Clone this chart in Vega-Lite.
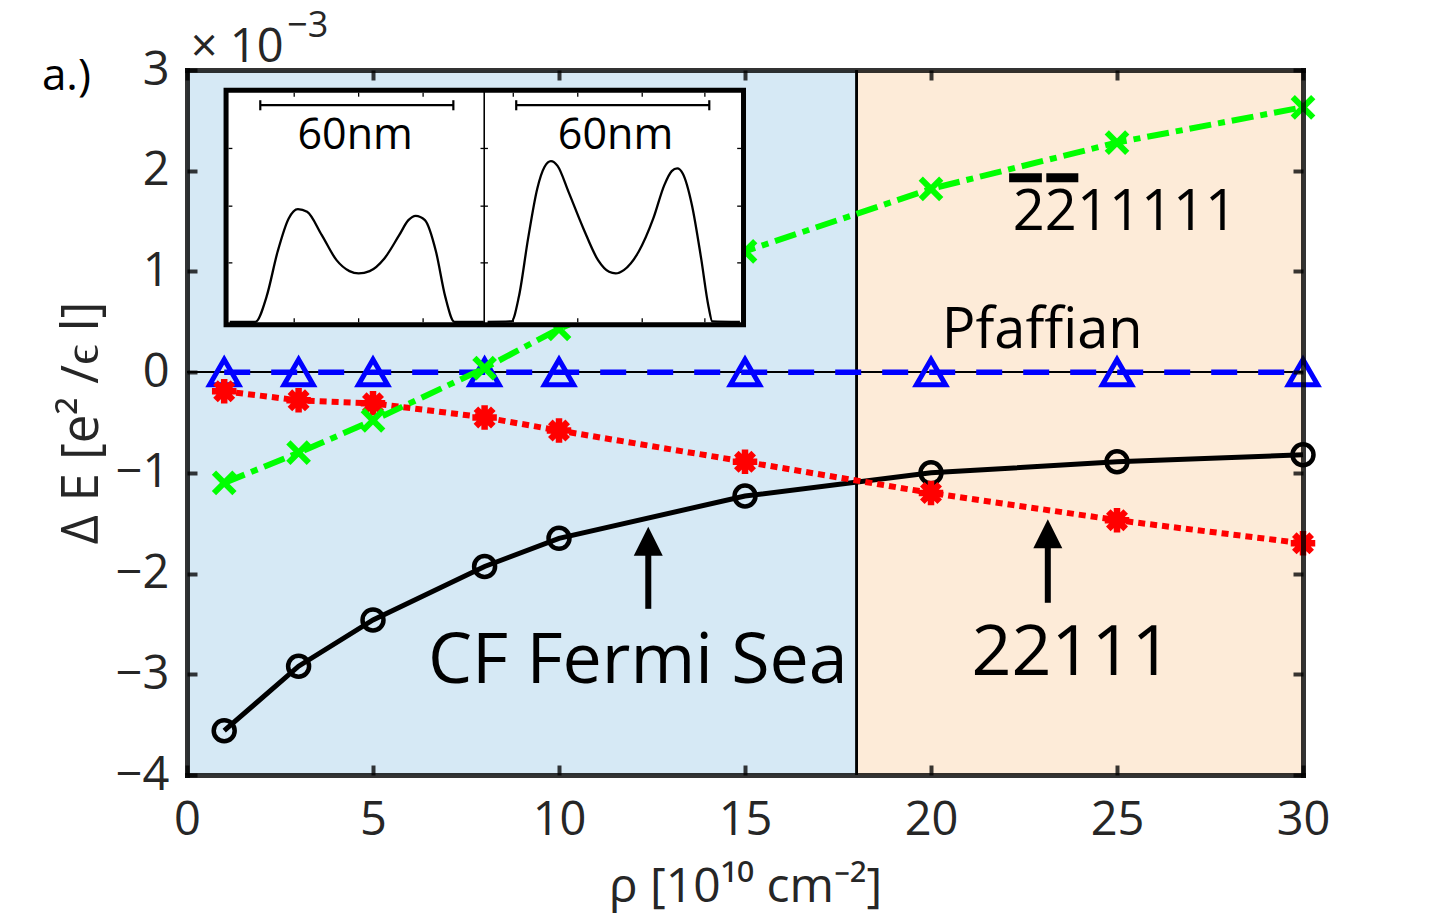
{
  "$schema": "https://vega.github.io/schema/vega-lite/v6.json",
  "width": 1116,
  "height": 705,
  "autosize": {"type": "none"},
  "padding": {"left": 187, "top": 70, "right": 137, "bottom": 144},
  "background": "white",
  "config": {"view": {"stroke": null}, "font": "Open Sans"},
  "datasets": {
    "series": [
      {"rho": 1, "dE": -3.56, "state": "CF Fermi Sea"},
      {"rho": 3, "dE": -2.92, "state": "CF Fermi Sea"},
      {"rho": 5, "dE": -2.46, "state": "CF Fermi Sea"},
      {"rho": 8, "dE": -1.93, "state": "CF Fermi Sea"},
      {"rho": 10, "dE": -1.65, "state": "CF Fermi Sea"},
      {"rho": 15, "dE": -1.23, "state": "CF Fermi Sea"},
      {"rho": 20, "dE": -1.0, "state": "CF Fermi Sea"},
      {"rho": 25, "dE": -0.89, "state": "CF Fermi Sea"},
      {"rho": 30, "dE": -0.82, "state": "CF Fermi Sea"},
      {"rho": 1, "dE": 0, "state": "Pfaffian"},
      {"rho": 3, "dE": 0, "state": "Pfaffian"},
      {"rho": 5, "dE": 0, "state": "Pfaffian"},
      {"rho": 8, "dE": 0, "state": "Pfaffian"},
      {"rho": 10, "dE": 0, "state": "Pfaffian"},
      {"rho": 15, "dE": 0, "state": "Pfaffian"},
      {"rho": 20, "dE": 0, "state": "Pfaffian"},
      {"rho": 25, "dE": 0, "state": "Pfaffian"},
      {"rho": 30, "dE": 0, "state": "Pfaffian"},
      {"rho": 1, "dE": -0.19, "state": "22111"},
      {"rho": 3, "dE": -0.28, "state": "22111"},
      {"rho": 5, "dE": -0.31, "state": "22111"},
      {"rho": 8, "dE": -0.45, "state": "22111"},
      {"rho": 10, "dE": -0.58, "state": "22111"},
      {"rho": 15, "dE": -0.89, "state": "22111"},
      {"rho": 20, "dE": -1.2, "state": "22111"},
      {"rho": 25, "dE": -1.47, "state": "22111"},
      {"rho": 30, "dE": -1.7, "state": "22111"},
      {"rho": 1, "dE": -1.1, "state": "2b2b11111"},
      {"rho": 3, "dE": -0.8, "state": "2b2b11111"},
      {"rho": 5, "dE": -0.48, "state": "2b2b11111"},
      {"rho": 8, "dE": 0.04, "state": "2b2b11111"},
      {"rho": 10, "dE": 0.43, "state": "2b2b11111"},
      {"rho": 15, "dE": 1.2, "state": "2b2b11111"},
      {"rho": 20, "dE": 1.82, "state": "2b2b11111"},
      {"rho": 25, "dE": 2.28, "state": "2b2b11111"},
      {"rho": 30, "dE": 2.63, "state": "2b2b11111"}
    ],
    "regions": [
      {"from": 0, "to": 18, "lo": -4, "hi": 3, "phase": "Fermi sea"},
      {"from": 18, "to": 30, "lo": -4, "hi": 3, "phase": "paired"}
    ],
    "insetFrame": [{"x0": 1.05, "x1": 14.96, "y0": 0.47, "y1": 2.8}],
    "insetDivider": [{"x0": 7.99, "x1": 7.99, "y0": 0.47, "y1": 2.8}],
    "insetTicks": [
      {"x0": 1.117, "x1": 1.22, "y0": 2.221, "y1": 2.221},
      {"x0": 1.117, "x1": 1.22, "y0": 1.648, "y1": 1.648},
      {"x0": 1.117, "x1": 1.22, "y0": 1.085, "y1": 1.085},
      {"x0": 7.89, "x1": 8.09, "y0": 2.221, "y1": 2.221},
      {"x0": 7.89, "x1": 8.09, "y0": 1.648, "y1": 1.648},
      {"x0": 7.89, "x1": 8.09, "y0": 1.085, "y1": 1.085},
      {"x0": 14.79, "x1": 14.893, "y0": 2.221, "y1": 2.221},
      {"x0": 14.79, "x1": 14.893, "y0": 1.648, "y1": 1.648},
      {"x0": 14.79, "x1": 14.893, "y0": 1.085, "y1": 1.085},
      {"x0": 2.882, "x1": 2.882, "y0": 0.495, "y1": 0.535},
      {"x0": 4.614, "x1": 4.614, "y0": 0.495, "y1": 0.535},
      {"x0": 6.347, "x1": 6.347, "y0": 0.495, "y1": 0.535},
      {"x0": 8.771, "x1": 8.771, "y0": 0.495, "y1": 0.535},
      {"x0": 10.504, "x1": 10.504, "y0": 0.495, "y1": 0.535},
      {"x0": 12.237, "x1": 12.237, "y0": 0.495, "y1": 0.535},
      {"x0": 13.921, "x1": 13.921, "y0": 0.495, "y1": 0.535},
      {"x0": 2.882, "x1": 2.882, "y0": 2.735, "y1": 2.775},
      {"x0": 4.614, "x1": 4.614, "y0": 2.735, "y1": 2.775},
      {"x0": 6.347, "x1": 6.347, "y0": 2.735, "y1": 2.775},
      {"x0": 8.771, "x1": 8.771, "y0": 2.735, "y1": 2.775},
      {"x0": 10.504, "x1": 10.504, "y0": 2.735, "y1": 2.775},
      {"x0": 12.237, "x1": 12.237, "y0": 2.735, "y1": 2.775},
      {"x0": 13.921, "x1": 13.921, "y0": 2.735, "y1": 2.775}
    ],
    "scaleBars": [
      {"x0": 1.97, "x1": 7.16, "y0": 2.651, "y1": 2.651},
      {"x0": 1.97, "x1": 1.97, "y0": 2.6, "y1": 2.7},
      {"x0": 7.16, "x1": 7.16, "y0": 2.6, "y1": 2.7},
      {"x0": 8.85, "x1": 14.04, "y0": 2.651, "y1": 2.651},
      {"x0": 8.85, "x1": 8.85, "y0": 2.6, "y1": 2.7},
      {"x0": 14.04, "x1": 14.04, "y0": 2.6, "y1": 2.7}
    ],
    "scaleLabels": [
      {"x": 4.52, "y": 2.22, "text": "60nm"},
      {"x": 11.52, "y": 2.22, "text": "60nm"}
    ],
    "profiles": [
      {"panel": "a", "pos": 1.149, "dens": 0.5},
      {"panel": "a", "pos": 1.84, "dens": 0.5},
      {"panel": "a", "pos": 2.139, "dens": 0.75},
      {"panel": "a", "pos": 2.435, "dens": 1.195},
      {"panel": "a", "pos": 2.734, "dens": 1.526},
      {"panel": "a", "pos": 2.981, "dens": 1.619},
      {"panel": "a", "pos": 3.229, "dens": 1.592},
      {"panel": "a", "pos": 3.624, "dens": 1.36},
      {"panel": "a", "pos": 4.02, "dens": 1.112},
      {"panel": "a", "pos": 4.367, "dens": 1.003},
      {"panel": "a", "pos": 4.614, "dens": 0.98},
      {"panel": "a", "pos": 4.91, "dens": 1.003},
      {"panel": "a", "pos": 5.306, "dens": 1.129},
      {"panel": "a", "pos": 5.704, "dens": 1.36},
      {"panel": "a", "pos": 5.952, "dens": 1.509},
      {"panel": "a", "pos": 6.148, "dens": 1.552},
      {"panel": "a", "pos": 6.396, "dens": 1.509},
      {"panel": "a", "pos": 6.694, "dens": 1.195},
      {"panel": "a", "pos": 6.942, "dens": 0.75},
      {"panel": "a", "pos": 7.189, "dens": 0.5},
      {"panel": "a", "pos": 7.98, "dens": 0.5},
      {"panel": "b", "pos": 8.08, "dens": 0.5},
      {"panel": "b", "pos": 8.723, "dens": 0.505},
      {"panel": "b", "pos": 8.922, "dens": 0.75},
      {"panel": "b", "pos": 9.17, "dens": 1.328},
      {"panel": "b", "pos": 9.417, "dens": 1.824},
      {"panel": "b", "pos": 9.613, "dens": 2.039},
      {"panel": "b", "pos": 9.783, "dens": 2.095},
      {"panel": "b", "pos": 9.961, "dens": 2.048},
      {"panel": "b", "pos": 10.256, "dens": 1.79},
      {"panel": "b", "pos": 10.655, "dens": 1.427},
      {"panel": "b", "pos": 11.05, "dens": 1.112},
      {"panel": "b", "pos": 11.346, "dens": 0.996},
      {"panel": "b", "pos": 11.524, "dens": 0.98},
      {"panel": "b", "pos": 11.742, "dens": 1.013},
      {"panel": "b", "pos": 12.14, "dens": 1.195},
      {"panel": "b", "pos": 12.535, "dens": 1.526},
      {"panel": "b", "pos": 12.831, "dens": 1.857},
      {"panel": "b", "pos": 13.03, "dens": 1.996},
      {"panel": "b", "pos": 13.178, "dens": 2.023},
      {"panel": "b", "pos": 13.326, "dens": 1.973},
      {"panel": "b", "pos": 13.574, "dens": 1.658},
      {"panel": "b", "pos": 13.821, "dens": 1.129},
      {"panel": "b", "pos": 14.02, "dens": 0.65},
      {"panel": "b", "pos": 14.12, "dens": 0.505},
      {"panel": "b", "pos": 14.863, "dens": 0.5}
    ],
    "arrows": [
      {"rho": 12.4, "head": -1.68, "base": -1.8, "tail": -2.35},
      {"rho": 23.14, "head": -1.604, "base": -1.72, "tail": -2.29}
    ],
    "bigLabels": [
      {"x": 12.12, "y": -3.09, "text": "CF Fermi Sea"},
      {"x": 23.78, "y": -3.01, "text": "22111"}
    ],
    "stateLabels": [
      {"x": 20.29, "y": 0.24, "text": "Pfaffian"},
      {"x": 22.2, "y": 1.41, "text": "2211111"}
    ],
    "overbars": [
      {"x0": 22.1, "x1": 22.98, "y": 1.93},
      {"x0": 23.1, "x1": 23.96, "y": 1.93}
    ],
    "panelTag": [{"x": -3.9, "y": 2.8, "text": "a.)"}],
    "multiplier": [{"x": 0.1, "y": 3.078, "text": "× 10"}],
    "exponent": [{"x": 2.69, "y": 3.327, "text": "−3"}]
  },
  "data": {"name": "series"},
  "layer": [
    {
      "data": {"name": "regions"},
      "mark": {"type": "rect"},
      "encoding": {
        "x": {"field": "from", "type": "quantitative", "scale": {"domain": [0, 30], "nice": false, "zero": false}, "axis": null},
        "x2": {"field": "to"},
        "y": {"field": "lo", "type": "quantitative", "scale": {"domain": [-4, 3], "nice": false, "zero": false}, "axis": null},
        "y2": {"field": "hi"},
        "color": {"field": "phase", "type": "nominal", "scale": {"domain": ["Fermi sea", "paired"], "range": ["#d6e9f5", "#fdebd8"]}, "legend": null}
      }
    },
    {
      "mark": {"type": "rule", "color": "#000000", "strokeWidth": 1.2},
      "encoding": {
        "x": {"datum": 0, "type": "quantitative", "axis": null},
        "x2": {"datum": 30},
        "y": {"datum": 0, "type": "quantitative", "axis": null}
      }
    },
    {
      "mark": {"type": "rule", "color": "#000000", "strokeWidth": 1.3},
      "encoding": {
        "x": {"datum": 18, "type": "quantitative", "axis": null},
        "y": {"datum": -4, "type": "quantitative", "axis": null},
        "y2": {"datum": 3}
      }
    },
    {
      "transform": [{"filter": "datum.state === 'CF Fermi Sea'"}],
      "mark": {"type": "line", "color": "#000000", "strokeWidth": 5},
      "encoding": {
        "x": {"field": "rho", "type": "quantitative", "axis": {
          "orient": "bottom", "values": [0, 5, 10, 15, 20, 25, 30], "format": "d",
          "title": "ρ [10¹⁰ cm⁻²]", "titleFont": "Open Sans", "titleFontSize": 48, "titleFontWeight": "normal", "titleColor": "#262626", "titlePadding": 20,
          "labelFont": "Open Sans", "labelFontSize": 47, "labelColor": "#262626", "labelPadding": 32, "labelFlush": false, "labelOverlap": false,
          "tickSize": -10, "tickWidth": 4, "tickColor": "#000000", "tickOpacity": 0.78,
          "domainColor": "#000000", "domainOpacity": 0.8, "domainWidth": 5, "domainCap": "square", "grid": false, "zindex": 1}},
        "y": {"field": "dE", "type": "quantitative", "axis": {
          "orient": "left", "values": [-4, -3, -2, -1, 0, 1, 2, 3], "format": "d",
          "title": "Δ E [e² /ϵ l]", "titleFont": "Open Sans", "titleFontSize": 51, "titleFontWeight": "normal", "titleColor": "#262626", "titlePadding": 7,
          "labelFont": "Open Sans", "labelFontSize": 47, "labelColor": "#262626", "labelPadding": 28, "labelOverlap": false,
          "tickSize": -10, "tickWidth": 4, "tickColor": "#000000", "tickOpacity": 0.78,
          "domainColor": "#000000", "domainOpacity": 0.8, "domainWidth": 5, "domainCap": "square", "grid": false, "zindex": 1}}
      }
    },
    {
      "transform": [{"filter": "datum.state === 'CF Fermi Sea'"}],
      "mark": {"type": "point", "shape": "circle", "filled": false, "stroke": "#000000", "strokeWidth": 4.5, "size": 440, "opacity": 1},
      "encoding": {
        "x": {"field": "rho", "type": "quantitative", "axis": null},
        "y": {"field": "dE", "type": "quantitative", "axis": null}
      }
    },
    {
      "transform": [{"filter": "datum.state === 'Pfaffian'"}],
      "mark": {"type": "line", "color": "#0000ff", "strokeWidth": 5.5, "strokeDash": [26, 21]},
      "encoding": {
        "x": {"field": "rho", "type": "quantitative", "axis": {
          "orient": "top", "values": [0, 5, 10, 15, 20, 25, 30], "labels": false, "title": null,
          "tickSize": -10, "tickWidth": 4, "tickColor": "#000000", "tickOpacity": 0.78,
          "domainColor": "#000000", "domainOpacity": 0.8, "domainWidth": 5, "domainCap": "square", "grid": false, "zindex": 1}},
        "y": {"field": "dE", "type": "quantitative", "axis": {
          "orient": "right", "values": [-4, -3, -2, -1, 0, 1, 2, 3], "labels": false, "title": null,
          "tickSize": -10, "tickWidth": 4, "tickColor": "#000000", "tickOpacity": 0.78,
          "domainColor": "#000000", "domainOpacity": 0.8, "domainWidth": 5, "domainCap": "square", "grid": false, "zindex": 1}}
      }
    },
    {
      "transform": [{"filter": "datum.state === 'Pfaffian'"}],
      "mark": {"type": "point", "shape": "triangle-up", "filled": false, "stroke": "#0000ff", "strokeWidth": 5, "size": 850, "opacity": 1},
      "encoding": {
        "x": {"field": "rho", "type": "quantitative", "axis": null},
        "y": {"field": "dE", "type": "quantitative", "axis": null}
      }
    },
    {
      "transform": [{"filter": "datum.state === '22111'"}],
      "mark": {"type": "line", "color": "#ff0000", "strokeWidth": 6, "strokeDash": [7, 5]},
      "encoding": {
        "x": {"field": "rho", "type": "quantitative", "axis": null},
        "y": {"field": "dE", "type": "quantitative", "axis": null}
      }
    },
    {
      "transform": [{"filter": "datum.state === '22111'"}],
      "mark": {"type": "point", "shape": "M-1,0L1,0M0,-1L0,1M-0.71,-0.71L0.71,0.71M-0.71,0.71L0.71,-0.71", "filled": false, "stroke": "#ff0000", "strokeWidth": 6.5, "size": 600, "opacity": 1},
      "encoding": {
        "x": {"field": "rho", "type": "quantitative", "axis": null},
        "y": {"field": "dE", "type": "quantitative", "axis": null}
      }
    },
    {
      "transform": [{"filter": "datum.state === '2b2b11111'"}],
      "mark": {"type": "line", "color": "#00ff00", "strokeWidth": 6, "strokeDash": [22, 7, 7, 7]},
      "encoding": {
        "x": {"field": "rho", "type": "quantitative", "axis": null},
        "y": {"field": "dE", "type": "quantitative", "axis": null}
      }
    },
    {
      "transform": [{"filter": "datum.state === '2b2b11111'"}],
      "mark": {"type": "point", "shape": "M-1,-1L1,1M-1,1L1,-1", "filled": false, "stroke": "#00ff00", "strokeWidth": 6, "size": 420, "opacity": 1},
      "encoding": {
        "x": {"field": "rho", "type": "quantitative", "axis": null},
        "y": {"field": "dE", "type": "quantitative", "axis": null}
      }
    },
    {
      "data": {"name": "insetFrame"},
      "mark": {"type": "rect", "fill": "#ffffff", "stroke": "#000000", "strokeWidth": 5},
      "encoding": {
        "x": {"field": "x0", "type": "quantitative", "axis": null},
        "x2": {"field": "x1"},
        "y": {"field": "y0", "type": "quantitative", "axis": null},
        "y2": {"field": "y1"}
      }
    },
    {
      "data": {"name": "insetDivider"},
      "mark": {"type": "rule", "color": "#000000", "strokeWidth": 1.6},
      "encoding": {
        "x": {"field": "x0", "type": "quantitative", "axis": null},
        "x2": {"field": "x1"},
        "y": {"field": "y0", "type": "quantitative", "axis": null},
        "y2": {"field": "y1"}
      }
    },
    {
      "data": {"name": "insetTicks"},
      "mark": {"type": "rule", "color": "#000000", "strokeWidth": 1.3},
      "encoding": {
        "x": {"field": "x0", "type": "quantitative", "axis": null},
        "x2": {"field": "x1"},
        "y": {"field": "y0", "type": "quantitative", "axis": null},
        "y2": {"field": "y1"}
      }
    },
    {
      "data": {"name": "profiles"},
      "mark": {"type": "line", "color": "#000000", "strokeWidth": 2.3, "interpolate": "monotone"},
      "encoding": {
        "x": {"field": "pos", "type": "quantitative", "axis": null},
        "y": {"field": "dens", "type": "quantitative", "axis": null},
        "detail": {"field": "panel"}
      }
    },
    {
      "data": {"name": "scaleBars"},
      "mark": {"type": "rule", "color": "#000000", "strokeWidth": 2.2},
      "encoding": {
        "x": {"field": "x0", "type": "quantitative", "axis": null},
        "x2": {"field": "x1"},
        "y": {"field": "y0", "type": "quantitative", "axis": null},
        "y2": {"field": "y1"}
      }
    },
    {
      "data": {"name": "scaleLabels"},
      "mark": {"type": "text", "font": "Open Sans", "fontSize": 43, "align": "center", "baseline": "alphabetic", "color": "#000000"},
      "encoding": {
        "x": {"field": "x", "type": "quantitative", "axis": null},
        "y": {"field": "y", "type": "quantitative", "axis": null},
        "text": {"field": "text"}
      }
    },
    {
      "data": {"name": "arrows"},
      "mark": {"type": "rule", "color": "#000000", "strokeWidth": 6},
      "encoding": {
        "x": {"field": "rho", "type": "quantitative", "axis": null},
        "y": {"field": "base", "type": "quantitative", "axis": null},
        "y2": {"field": "tail"}
      }
    },
    {
      "data": {"name": "arrows"},
      "mark": {"type": "point", "shape": "M0,-1L1,1L-1,1Z", "filled": true, "fill": "#000000", "strokeWidth": 0, "size": 841, "opacity": 1},
      "encoding": {
        "x": {"field": "rho", "type": "quantitative", "axis": null},
        "y": {"field": "head", "type": "quantitative", "axis": null}
      }
    },
    {
      "data": {"name": "bigLabels"},
      "mark": {"type": "text", "font": "Open Sans", "fontSize": 70, "align": "center", "baseline": "alphabetic", "color": "#000000"},
      "encoding": {
        "x": {"field": "x", "type": "quantitative", "axis": null},
        "y": {"field": "y", "type": "quantitative", "axis": null},
        "text": {"field": "text"}
      }
    },
    {
      "data": {"name": "stateLabels"},
      "mark": {"type": "text", "font": "Open Sans", "fontSize": 56, "align": "left", "baseline": "alphabetic", "color": "#000000"},
      "encoding": {
        "x": {"field": "x", "type": "quantitative", "axis": null},
        "y": {"field": "y", "type": "quantitative", "axis": null},
        "text": {"field": "text"}
      }
    },
    {
      "data": {"name": "overbars"},
      "mark": {"type": "rule", "color": "#000000", "strokeWidth": 9},
      "encoding": {
        "x": {"field": "x0", "type": "quantitative", "axis": null},
        "x2": {"field": "x1"},
        "y": {"field": "y", "type": "quantitative", "axis": null}
      }
    },
    {
      "data": {"name": "panelTag"},
      "mark": {"type": "text", "font": "Open Sans", "fontSize": 44, "align": "left", "baseline": "alphabetic", "color": "#000000"},
      "encoding": {
        "x": {"field": "x", "type": "quantitative", "axis": null},
        "y": {"field": "y", "type": "quantitative", "axis": null},
        "text": {"field": "text"}
      }
    },
    {
      "data": {"name": "multiplier"},
      "mark": {"type": "text", "font": "Open Sans", "fontSize": 47, "align": "left", "baseline": "alphabetic", "color": "#262626"},
      "encoding": {
        "x": {"field": "x", "type": "quantitative", "axis": null},
        "y": {"field": "y", "type": "quantitative", "axis": null},
        "text": {"field": "text"}
      }
    },
    {
      "data": {"name": "exponent"},
      "mark": {"type": "text", "font": "Open Sans", "fontSize": 36, "align": "left", "baseline": "alphabetic", "color": "#262626"},
      "encoding": {
        "x": {"field": "x", "type": "quantitative", "axis": null},
        "y": {"field": "y", "type": "quantitative", "axis": null},
        "text": {"field": "text"}
      }
    }
  ],
  "resolve": {"axis": {"x": "independent", "y": "independent"}}
}
